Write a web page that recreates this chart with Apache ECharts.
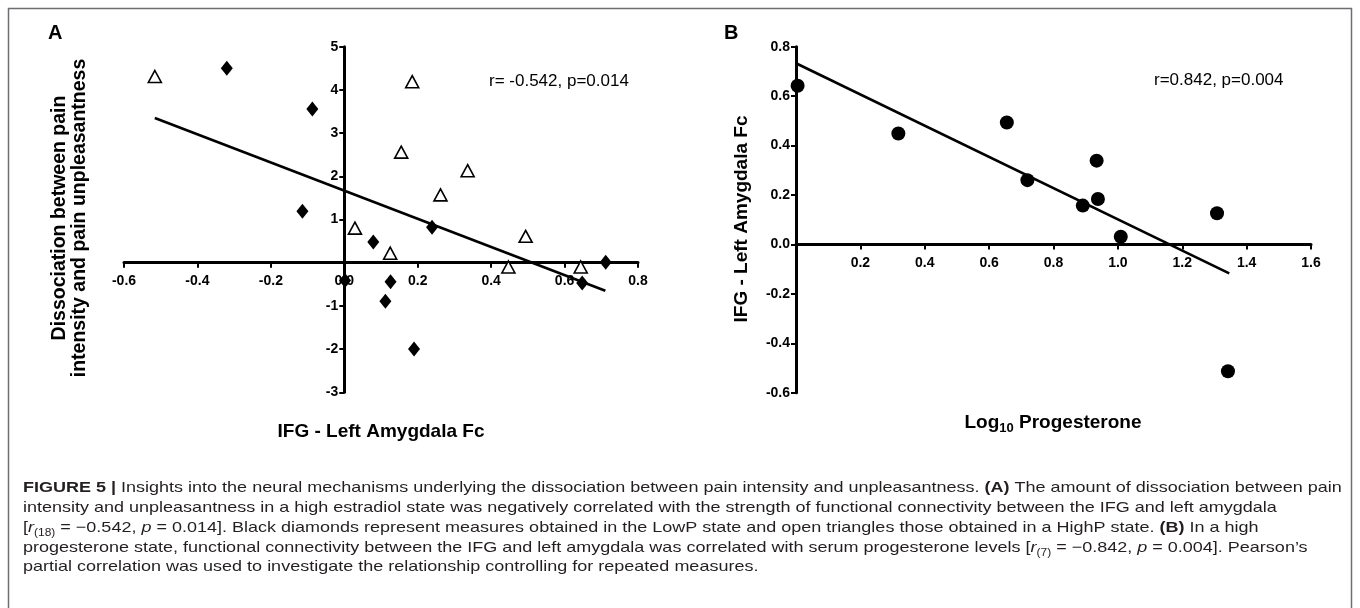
<!DOCTYPE html>
<html><head><meta charset="utf-8">
<script src="https://cdn.jsdelivr.net/npm/echarts@6/dist/echarts.min.js"></script>
<style>html,body{margin:0;padding:0;background:#fff}#c{width:1360px;height:608px}</style>
</head><body><div id="c"></div>
<script>
// ---------- Panel A data ----------
const lowPX  = [-0.320, -0.087, -0.114, 0.239, 0.079, 0.712, 0.002, 0.126, 0.648, 0.112, 0.190];
const lowPY  = [ 4.50,   3.56,   1.19,  0.82,  0.48,  0.01, -0.41, -0.44, -0.47, -0.89, -2.00];
const highPX = [-0.516, 0.185, 0.155, 0.336, 0.262, 0.029, 0.125, 0.494, 0.447, 0.644];
const highPY = [ 4.31,  4.19,  2.56,  2.13,  1.57,  0.80,  0.22,  0.61, -0.10, -0.10];
const fitAX  = [-0.516, 0.711];
const fitAY  = [ 3.35, -0.65];
const ticksAX = [-0.6, 0.8, 0.2];   // min, max, step
const ticksAY = [-3, 5, 1];
// ---------- Panel B data ----------
const progX = [0.005, 0.318, 0.655, 0.719, 0.934, 0.938, 0.891, 1.009, 1.308, 1.342];
const fcY   = [0.642, 0.449, 0.493, 0.260, 0.339, 0.184, 0.157, 0.031, 0.126, -0.513];
const fitBX = [0.0, 1.346];
const fitBY = [0.733, -0.117];
const ticksBX = [0, 1.6, 0.2];
const ticksBY = [-0.6, 0.8, 0.2];

const zip = (a, b) => a.map((v, i) => [v, b[i]]);
const FF = "'Liberation Sans', Arial, Helvetica, sans-serif";
const fmt1 = v => { const r = Math.round(v * 10) / 10; return (r === 0 ? 0 : r).toFixed(1); };

const GA = { left: 124, top: 46.7, width: 514, height: 345.6 };
const GB = { left: 796, top: 46.7, width: 515, height: 346 };
// offset that puts an axis on the other axis' zero
const zeroOff = (len, t) => -len * (0 - t[0]) / (t[1] - t[0]);

function mkAxis(grid, t, formatter, offset, margin) {
  return {
    type: 'value', gridIndex: grid, min: t[0], max: t[1], interval: t[2], offset,
    axisLine: { show: true, onZero: false, lineStyle: { color: '#000', width: 3 } },
    axisTick: { show: true, length: 5, lineStyle: { color: '#000', width: 2 } },
    axisLabel: { formatter, color: '#000', fontSize: 14, fontWeight: 'bold', fontFamily: FF, margin },
    splitLine: { show: false }
  };
}

const chart = echarts.init(document.getElementById('c'), null, { renderer: 'canvas' });
const cap = (y, text) => ({
  type: 'text', x: 23, y, scaleX: 1.2, scaleY: 1, silent: true,
  style: {
    text, fill: '#231f20', fontSize: 15, fontFamily: FF, align: 'left', verticalAlign: 'middle', lineHeight: 20,
    rich: {
      b: { fontWeight: 'bold', fontSize: 15, fontFamily: FF, lineHeight: 20 },
      i: { fontStyle: 'italic', fontSize: 15, fontFamily: FF, lineHeight: 20 },
      s: { fontSize: 10, fontFamily: FF, lineHeight: 11, verticalAlign: 'bottom' }
    }
  }
});

chart.setOption({
  animation: false,
  backgroundColor: '#fff',
  grid: [
    Object.assign({ outerBoundsMode: 'none', containLabel: false }, GA),
    Object.assign({ outerBoundsMode: 'none', containLabel: false }, GB)
  ],
  xAxis: [
    mkAxis(0, ticksAX, v => fmt1(v), zeroOff(GA.height, ticksAY), 11),
    mkAxis(1, ticksBX, v => Math.abs(v) < 1e-9 ? '' : fmt1(v), zeroOff(GB.height, ticksBY), 12)
  ],
  yAxis: [
    mkAxis(0, ticksAY, v => Math.abs(v) < 1e-9 ? '' : String(Math.round(v)), zeroOff(GA.width, ticksAX), 6),
    mkAxis(1, ticksBY, v => fmt1(v), 0, 6)
  ],
  series: [
    { type: 'line', xAxisIndex: 0, yAxisIndex: 0, data: zip(fitAX, fitAY), symbol: 'none',
      lineStyle: { color: '#000', width: 2.6 }, z: 3 },
    { type: 'scatter', xAxisIndex: 0, yAxisIndex: 0, data: zip(lowPX, lowPY), symbol: 'diamond',
      symbolSize: [12, 15], itemStyle: { color: '#000', opacity: 1 }, z: 4 },
    { type: 'scatter', xAxisIndex: 0, yAxisIndex: 0, data: zip(highPX, highPY), symbol: 'triangle',
      symbolSize: [13, 12], itemStyle: { color: '#fff', borderColor: '#000', borderWidth: 1.6, opacity: 1 }, z: 4 },
    { type: 'line', xAxisIndex: 1, yAxisIndex: 1, data: zip(fitBX, fitBY), symbol: 'none',
      lineStyle: { color: '#000', width: 2.6 }, z: 3 },
    { type: 'scatter', xAxisIndex: 1, yAxisIndex: 1, data: zip(progX, fcY), symbol: 'circle',
      symbolSize: 14, itemStyle: { color: '#000', opacity: 1 }, z: 4 }
  ],
  graphic: [
    { type: 'rect', silent: true, shape: { x: 8.5, y: 8.5, width: 1343, height: 640 },
      style: { fill: 'none', stroke: '#6d6e71', lineWidth: 1.5 } },
    { type: 'text', x: 48, y: 33, silent: true,
      style: { text: 'A', fill: '#000', fontSize: 20, fontWeight: 'bold', fontFamily: FF, align: 'left', verticalAlign: 'middle' } },
    { type: 'text', x: 724, y: 33, silent: true,
      style: { text: 'B', fill: '#000', fontSize: 20, fontWeight: 'bold', fontFamily: FF, align: 'left', verticalAlign: 'middle' } },
    { type: 'text', x: 70, y: 218, rotation: Math.PI / 2, silent: true,
      style: { text: 'Dissociation between pain\nintensity and pain unpleasantness', fill: '#000', fontSize: 19.5,
        fontWeight: 'bold', fontFamily: FF, align: 'center', verticalAlign: 'middle', lineHeight: 20 } },
    { type: 'text', x: 381, y: 432, silent: true,
      style: { text: 'IFG - Left Amygdala Fc', fill: '#000', fontSize: 19, fontWeight: 'bold', fontFamily: FF,
        align: 'center', verticalAlign: 'middle' } },
    { type: 'text', x: 742, y: 219, rotation: Math.PI / 2, silent: true,
      style: { text: 'IFG - Left Amygdala Fc', fill: '#000', fontSize: 19, fontWeight: 'bold', fontFamily: FF,
        align: 'center', verticalAlign: 'middle' } },
    { type: 'text', x: 1053, y: 423, silent: true,
      style: { text: '{m|Log}{s|10}{m| Progesterone}', align: 'center', verticalAlign: 'middle', lineHeight: 24,
        rich: {
          m: { fontSize: 19, fontWeight: 'bold', fontFamily: FF, fill: '#000', lineHeight: 24 },
          s: { fontSize: 13, fontWeight: 'bold', fontFamily: FF, fill: '#000', lineHeight: 13, verticalAlign: 'bottom' }
        } } },
    { type: 'text', x: 489, y: 81, silent: true,
      style: { text: 'r= -0.542, p=0.014', fill: '#000', fontSize: 17, fontFamily: FF, align: 'left', verticalAlign: 'middle' } },
    { type: 'text', x: 1154, y: 80, silent: true,
      style: { text: 'r=0.842, p=0.004', fill: '#000', fontSize: 17, fontFamily: FF, align: 'left', verticalAlign: 'middle' } },
    cap(488, '{b|FIGURE 5 |} Insights into the neural mechanisms underlying the dissociation between pain intensity and unpleasantness. {b|(A)} The amount of dissociation between pain'),
    cap(508, 'intensity and unpleasantness in a high estradiol state was negatively correlated with the strength of functional connectivity between the IFG and left amygdala'),
    cap(528, '[{i|r}{s|(18)} = −0.542, {i|p} = 0.014]. Black diamonds represent measures obtained in the LowP state and open triangles those obtained in a HighP state. {b|(B)} In a high'),
    cap(548, 'progesterone state, functional connectivity between the IFG and left amygdala was correlated with serum progesterone levels [{i|r}{s|(7)} = −0.842, {i|p} = 0.004]. Pearson\u2019s'),
    cap(567, 'partial correlation was used to investigate the relationship controlling for repeated measures.')
  ]
});
</script></body></html>
